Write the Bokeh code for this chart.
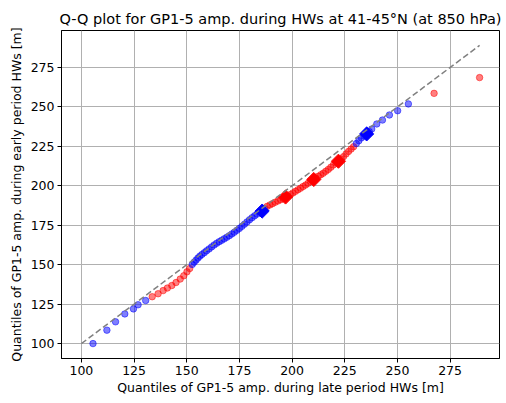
import numpy as np
from bokeh.plotting import figure
from bokeh.models import Range1d, FixedTicker
from bokeh.embed import file_html
from bokeh.resources import INLINE

# Blue (low tail)
blue_low_x = [105.5, 112.1, 116.2, 120.6, 124.7, 126.9, 130.5]
blue_low_y = [100.0, 108.5, 113.8, 118.8, 122.0, 124.6, 127.3]

# Red (lower middle)
red_low_x = [133.6, 136.4, 138.8, 140.8, 142.9, 144.9, 146.9, 148.6, 150.1, 151.4]
red_low_y = [129.7, 131.6, 133.6, 135.2, 136.8, 138.7, 140.9, 143.0, 145.5, 147.6]

# Blue (middle)
blue_mid_x = [152.6, 153.5, 154.4, 155.3, 156.2, 157.2, 158.3, 159.4, 160.6, 161.8,
              163.0, 164.2, 165.4, 166.6, 167.8, 169.0, 170.2, 171.4, 172.6, 173.8,
              175.0, 176.2, 177.4, 178.6, 179.8, 181.0, 182.2, 183.4, 184.6, 185.8, 187.0]
blue_mid_y = [150.2, 151.6, 152.9, 154.2, 155.4, 156.5, 157.6, 158.8, 160.0, 161.3,
              162.5, 163.6, 164.6, 165.5, 166.4, 167.4, 168.4, 169.5, 170.6, 171.8,
              173.0, 174.3, 175.7, 177.1, 178.5, 179.8, 181.0, 182.1, 183.1, 184.0, 185.2]

# Red (upper middle)
red_mid_x = [188.2, 189.5, 190.7, 192.0, 193.3, 194.6, 195.8, 196.9, 198.0, 199.2,
             200.4, 201.6, 202.8, 204.0, 205.2, 206.4, 207.6, 208.8, 210.0, 211.2,
             212.4, 213.6, 214.8, 216.0, 217.2, 218.4, 219.6, 220.8, 222.0, 223.2,
             224.4, 225.6, 226.8, 228.0, 229.2]
red_mid_y = [187.0, 187.9, 188.7, 189.6, 190.4, 191.2, 191.9, 192.6, 193.5, 194.5,
             195.5, 196.5, 197.5, 198.5, 199.5, 200.5, 201.6, 202.7, 203.8, 204.9,
             206.0, 207.0, 208.0, 209.2, 210.4, 211.8, 213.2, 214.5, 215.7, 217.0,
             218.5, 220.2, 221.8, 223.3, 224.8]

# Blue (upper tail)
blue_high_x = [230.5, 231.7, 232.9, 234.1, 235.3, 236.6, 237.8, 240.2, 242.9, 246.2, 250.1, 255.2]
blue_high_y = [226.8, 228.6, 230.4, 231.6, 232.6, 234.4, 236.0, 239.2, 241.7, 244.9, 247.6, 251.9]

# Red (extreme upper tail)
red_high_x = [267.4, 289.0]
red_high_y = [258.6, 268.6]

# Highlighted quantiles (diamonds)
dia_blue_x = [185.8, 235.4]
dia_blue_y = [184.0, 232.9]
dia_red_x = [196.9, 210.3, 222.0]
dia_red_y = [192.9, 204.0, 215.6]

ticks = [100, 125, 150, 175, 200, 225, 250, 275]

all_x = blue_low_x + red_low_x + blue_mid_x + red_mid_x + blue_high_x + red_high_x
all_y = blue_low_y + red_low_y + blue_mid_y + red_mid_y + blue_high_y + red_high_y
lo = min(min(all_x), min(all_y))
hi = max(max(all_x), max(all_y))
pad = 0.05 * (hi - lo)

p = figure(width=506, height=403, output_backend="svg", toolbar_location=None,
           x_range=Range1d(lo - pad, hi + pad), y_range=Range1d(lo - pad, hi + pad),
           min_border_left=61, min_border_right=7, min_border_top=30, min_border_bottom=45)

p.title.text = "Q-Q plot for GP1-5 amp. during HWs at 41-45°N (at 850 hPa)"
p.title.align = "center"
p.title.text_font = "DejaVu Sans"
p.title.text_font_size = "14.5px"
p.title.text_font_style = "normal"
p.title.text_color = "black"
p.title.offset = 0
p.title.standoff = 7

p.background_fill_color = "white"
p.border_fill_color = "white"
p.outline_line_color = "black"
p.outline_line_width = 1

for ax in (p.xaxis, p.yaxis):
    ax.ticker = FixedTicker(ticks=ticks)
    ax.major_label_text_font = "DejaVu Sans"
    ax.major_label_text_font_size = "12.5px"
    ax.major_label_text_color = "black"
    ax.axis_label_text_font = "DejaVu Sans"
    ax.axis_label_text_font_size = "12.5px"
    ax.axis_label_text_font_style = "normal"
    ax.axis_label_text_color = "black"
    ax.axis_line_color = "black"
    ax.major_tick_line_color = "black"
    ax.major_tick_out = 4
    ax.major_tick_in = 0
    ax.minor_tick_line_color = None
    ax.major_label_standoff = 3

p.xaxis.axis_label = "Quantiles of GP1-5 amp. during late period HWs [m]"
p.yaxis.axis_label = "Quantiles of GP1-5 amp. during early period HWs [m]"
p.xaxis.axis_label_standoff = 2
p.yaxis.axis_label_standoff = 4

p.grid.grid_line_color = "#b0b0b0"
p.grid.grid_line_width = 1

for xs, ys, c in [(blue_low_x, blue_low_y, "blue"), (red_low_x, red_low_y, "red"),
                  (blue_mid_x, blue_mid_y, "blue"), (red_mid_x, red_mid_y, "red"),
                  (blue_high_x, blue_high_y, "blue"), (red_high_x, red_high_y, "red")]:
    p.scatter(xs, ys, marker="circle", size=6.5, fill_color=c, line_color=c,
              fill_alpha=0.5, line_alpha=0.5)

p.scatter(dia_blue_x, dia_blue_y, marker="square", angle=np.pi / 4, size=10,
          fill_color="blue", line_color="blue")
p.scatter(dia_red_x, dia_red_y, marker="square", angle=np.pi / 4, size=10,
          fill_color="red", line_color="red")

p.line([lo, hi], [lo, hi], line_color="gray", line_dash="6 3", line_width=1.5)

open("out.html", "w").write(file_html(p, INLINE))
